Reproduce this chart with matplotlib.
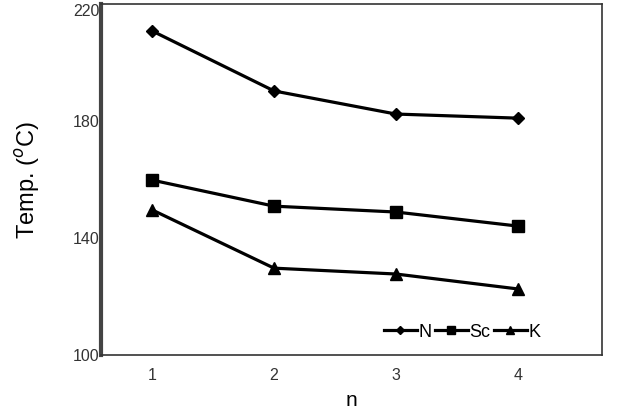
import matplotlib
matplotlib.use("Agg")
import matplotlib.pyplot as plt

n_vals = [1, 2, 3, 4]
N_temp = [210.8, 190.3, 182.4, 181.0]
Sc_temp = [159.8, 150.9, 148.9, 144.1]
K_temp = [149.6, 129.7, 127.7, 122.6]
y_ticks = [100, 140, 180, 220]

plt.rcParams['font.family'] = ['Liberation Sans', 'DejaVu Sans']

fig = plt.figure(figsize=(6.32, 4.09), dpi=100)
ax = fig.add_axes([0.160, 0.132, 0.792, 0.858])

ax.plot(n_vals, N_temp, color='black', lw=2.3, marker='D', ms=6, label='N')
ax.plot(n_vals, Sc_temp, color='black', lw=2.3, marker='s', ms=9, label='Sc')
ax.plot(n_vals, K_temp, color='black', lw=2.3, marker='^', ms=9, label='K')

ax.set_xlim(0.58, 4.69)
ax.set_ylim(100, 220)
ax.set_xticks(n_vals)
ax.set_yticks(y_ticks)
ax.tick_params(length=0, labelsize=11.5, colors='#333333', pad=9)
ax.tick_params(axis='y', pad=1)
for lab in ax.get_yticklabels():
    if lab.get_text() == '220':
        lab.set_va('top')

for s in ['top', 'right', 'bottom']:
    ax.spines[s].set_color('#333333')
    ax.spines[s].set_linewidth(1.2)
ax.spines['left'].set_color('#444444')
ax.spines['left'].set_linewidth(3)

ax.set_xlabel('n', fontsize=15, labelpad=6)
ax.set_ylabel('Temp. ($^o$C)', fontsize=17, labelpad=22)

ax.legend(loc='lower right', bbox_to_anchor=(0.91, -0.005), ncol=3, frameon=False,
          fontsize=13, handlelength=1.8, handletextpad=0.1, columnspacing=0.2,
          markerscale=0.7)

fig.savefig('out.png', dpi=100)
